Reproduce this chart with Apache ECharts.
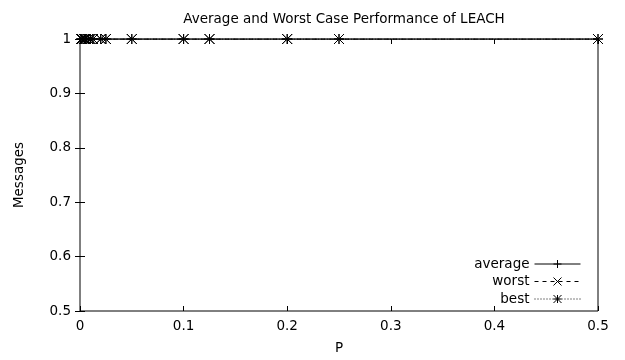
<!DOCTYPE html>
<html><head><meta charset="utf-8">
<script src="https://cdn.jsdelivr.net/npm/echarts@6/dist/echarts.min.js"></script>
<style>html,body{margin:0;padding:0;background:#fff}#c{width:625px;height:360px}</style>
</head><body><div id="c"></div>
<script>
const pValues = [0.001, 0.002, 0.004, 0.005, 0.008, 0.01, 0.0125, 0.02, 0.025, 0.05, 0.1, 0.125, 0.2, 0.25, 0.5];
const averageVals = [1, 1, 1, 1, 1, 1, 1, 1, 1, 1, 1, 1, 1, 1, 1];
const worstVals = [1, 1, 1, 1, 1, 1, 1, 1, 1, 1, 1, 1, 1, 1, 1];
const bestVals = [1, 1, 1, 1, 1, 1, 1, 1, 1, 1, 1, 1, 1, 1, 1];
const seriesNames = ['average', 'worst', 'best'];
const xTicks = [0, 0.1, 0.2, 0.3, 0.4, 0.5];
const yTicks = [0.5, 0.6, 0.7, 0.8, 0.9, 1];

const FONT = 'DejaVu Sans';
const FS = 13.5;
const symPlus = 'path://M0,5L10,5M5,0L5,10';
const symCross = 'path://M0,0L10,10M0,10L10,0';
const symStar = 'path://M0,5L10,5M5,0L5,10M0,0L10,10M0,10L10,0';

function pairs(xs, ys){ return xs.map((x,i)=>[x, ys[i]]); }

const chart = echarts.init(document.getElementById('c'), null, {renderer:'canvas'});
const mk = (name, vals, sym, type) => ({
  name, type:'line', data: pairs(pValues, vals), symbol: sym, symbolSize: 10,
  showAllSymbol: true, animation:false,
  lineStyle:{color:'#000', width:1, type},
  itemStyle:{color:'#000', borderColor:'#000', borderWidth:1},
  emphasis:{disabled:true}
});
const legendBase = (name, top) => ({
  data:[name], orient:'vertical', align:'right', right:44, top, itemWidth:46, itemHeight:10,
  itemGap:0, padding:0, textStyle:{fontFamily:FONT, fontSize:FS, color:'#000'}, selectedMode:false,
  lineStyle:{width:1}, itemStyle:{borderWidth:1}
});
const axisCommon = {
  axisLine:{show:false}, splitLine:{show:false},
  axisTick:{inside:true, length:5, lineStyle:{color:'#000', width:1}}
};
chart.setOption({
  animation:false,
  title:{text:'Average and Worst Case Performance of LEACH', left:339, top:7, textAlign:'center',
    textStyle:{fontFamily:FONT, fontSize:FS, fontWeight:'normal', color:'#000'}},
  legend:[legendBase('average',257), legendBase('worst',274.5), legendBase('best',292)],
  grid:{left:80, right:27, top:39, bottom:49, show:true, borderColor:'#000', borderWidth:1, backgroundColor:'transparent'},
  xAxis:[
    Object.assign({type:'value', min:xTicks[0], max:xTicks[xTicks.length-1], interval:0.1, position:'bottom',
      name:'P', nameLocation:'middle', nameGap:30,
      nameTextStyle:{fontFamily:FONT, fontSize:FS, color:'#000'},
      axisLabel:{fontFamily:FONT, fontSize:FS, color:'#000', margin:8}}, axisCommon),
    Object.assign({type:'value', min:xTicks[0], max:xTicks[xTicks.length-1], interval:0.1, position:'top',
      axisLabel:{show:false}}, axisCommon)
  ],
  yAxis:[
    Object.assign({type:'value', min:yTicks[0], max:yTicks[yTicks.length-1], interval:0.1, position:'left',
      name:'Messages', nameLocation:'middle', nameGap:54, nameRotate:90,
      nameTextStyle:{fontFamily:FONT, fontSize:FS, color:'#000'},
      axisLabel:{fontFamily:FONT, fontSize:FS, color:'#000', margin:9}}, axisCommon),
    Object.assign({type:'value', min:yTicks[0], max:yTicks[yTicks.length-1], interval:0.1, position:'right',
      axisLabel:{show:false}}, axisCommon)
  ],
  series:[
    mk(seriesNames[0], averageVals, symPlus, 'solid'),
    mk(seriesNames[1], worstVals, symCross, [4,4]),
    mk(seriesNames[2], bestVals, symStar, [1,2])
  ]
});
</script></body></html>
